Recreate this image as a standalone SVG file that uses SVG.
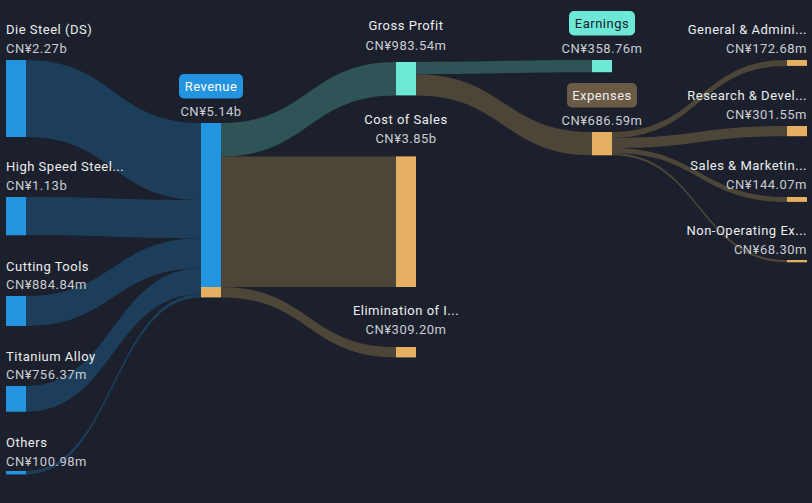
<svg xmlns="http://www.w3.org/2000/svg" width="812" height="503" viewBox="0 0 812 503">
<style>
text{font-family:Roboto,"Liberation Sans",sans-serif;font-size:13px;letter-spacing:0.5px}
.l{fill:#eceef0}
.v{fill:#c9cdd2}
.s{text-anchor:start}
.m{text-anchor:middle}
.e{text-anchor:end}
.blue{fill:#2394e0}
.org{fill:#e6b062}
.teal{fill:#6de8d6}
.fb{fill:#1d3e5a}
.ft{fill:#2e5457}
.fr{fill:#4d4638}
</style>
<rect width="812" height="503" fill="#1b202c"/>
<g id="connectors">
<path class="fb" d="M26 60 C113.5 60 113.5 123 201 123 L201 200 C113.5 200 113.5 137 26 137 Z"/>
<path class="fb" d="M26 197 C113.5 197 113.5 200 201 200 L201 238.3 C113.5 238.3 113.5 235.3 26 235.3 Z"/>
<path class="fb" d="M26 296 C113.5 296 113.5 238.3 201 238.3 L201 268.3 C113.5 268.3 113.5 326 26 326 Z"/>
<path class="fb" d="M26 386 C113.5 386 113.5 268.3 201 268.3 L201 294 C113.5 294 113.5 411.7 26 411.7 Z"/>
<path class="fb" d="M26 471 C113.5 471 113.5 294 201 294 L201 297.4 C113.5 297.4 113.5 474.4 26 474.4 Z"/>
<path class="ft" d="M221 123 C308.5 123 308.5 62 396 62 L396 95.4 C308.5 95.4 308.5 156.4 221 156.4 Z"/>
<path class="fr" d="M221 156.4 L396 156.4 L396 287 L221 287 Z"/>
<path class="fr" d="M221 287 C308.5 287 308.5 347 396 347 L396 357.4 C308.5 357.4 308.5 297.4 221 297.4 Z"/>
<path class="ft" d="M416 62 C504 62 504 60 592 60 L592 72.2 C504 72.2 504 74.2 416 74.2 Z"/>
<path class="fr" d="M416 74.2 C504 74.2 504 132 592 132 L592 155.3 C504 155.3 504 95.4 416 95.4 Z"/>
<path class="fr" d="M612 132 C699.5 132 699.5 60 787 60 L787 65.9 C699.5 65.9 699.5 137.9 612 137.9 Z"/>
<path class="fr" d="M612 137.9 C699.5 137.9 699.5 126 787 126 L787 136.2 C699.5 136.2 699.5 148.1 612 148.1 Z"/>
<path class="fr" d="M612 148.1 C699.5 148.1 699.5 197 787 197 L787 201.9 C699.5 201.9 699.5 153 612 153 Z"/>
<path class="fr" d="M612 153 C699.5 153 699.5 260 787 260 L787 262.3 C699.5 262.3 699.5 155.3 612 155.3 Z"/>
</g>
<g id="die-steel">
<rect class="blue" x="6" y="60" width="20" height="77"/>
<text class="l s" x="6" y="34">Die Steel (DS)</text>
<text class="v s" x="6" y="53">CN¥2.27b</text>
</g>
<g id="high-speed-steel">
<rect class="blue" x="6" y="197" width="20" height="38.3"/>
<text class="l s" x="6" y="171">High Speed Steel...</text>
<text class="v s" x="6" y="190">CN¥1.13b</text>
</g>
<g id="cutting-tools">
<rect class="blue" x="6" y="296" width="20" height="30"/>
<text class="l s" x="6" y="271">Cutting Tools</text>
<text class="v s" x="6" y="289">CN¥884.84m</text>
</g>
<g id="titanium-alloy">
<rect class="blue" x="6" y="386" width="20" height="25.7"/>
<text class="l s" x="6" y="361">Titanium Alloy</text>
<text class="v s" x="6" y="379">CN¥756.37m</text>
</g>
<g id="others">
<rect class="blue" x="6" y="471" width="20" height="3.4"/>
<text class="l s" x="6" y="447">Others</text>
<text class="v s" x="6" y="466">CN¥100.98m</text>
</g>
<g id="revenue">
<rect class="blue" x="201" y="123" width="20" height="164"/>
<rect class="org" x="201" y="287" width="20" height="10.4"/>
<rect x="179" y="74" width="64" height="24.5" rx="5" fill="#2394e0"/>
<text class="m" x="211" y="91" fill="#ffffff">Revenue</text>
<text class="v m" x="211" y="116">CN¥5.14b</text>
</g>
<g id="gross-profit">
<rect class="teal" x="396" y="62" width="20" height="33.4"/>
<text class="l m" x="406" y="30">Gross Profit</text>
<text class="v m" x="406" y="50">CN¥983.54m</text>
</g>
<g id="cost-of-sales">
<rect class="org" x="396" y="156.4" width="20" height="130.6"/>
<text class="l m" x="406" y="124">Cost of Sales</text>
<text class="v m" x="406" y="143">CN¥3.85b</text>
</g>
<g id="elimination">
<rect class="org" x="396" y="347" width="20" height="10.4"/>
<text class="l m" x="406" y="315">Elimination of I...</text>
<text class="v m" x="406" y="334">CN¥309.20m</text>
</g>
<g id="earnings">
<rect class="teal" x="592" y="60" width="20" height="12.2"/>
<rect x="569" y="11" width="66" height="24.5" rx="5" fill="#6de8d6"/>
<text class="m" x="602" y="28" fill="#1b202c">Earnings</text>
<text class="v m" x="602" y="53">CN¥358.76m</text>
</g>
<g id="expenses">
<rect class="org" x="592" y="132" width="20" height="23.3"/>
<rect x="567" y="83" width="70" height="24.5" rx="5" fill="#6b5a45"/>
<text class="m" x="602" y="100" fill="#eceef0">Expenses</text>
<text class="v m" x="602" y="125">CN¥686.59m</text>
</g>
<g id="general-admin">
<rect class="org" x="787" y="60" width="20" height="5.9"/>
<text class="l e" x="807" y="34">General &amp; Admini...</text>
<text class="v e" x="807" y="53">CN¥172.68m</text>
</g>
<g id="research-dev">
<rect class="org" x="787" y="126" width="20" height="10.2"/>
<text class="l e" x="807" y="100">Research &amp; Devel...</text>
<text class="v e" x="807" y="119">CN¥301.55m</text>
</g>
<g id="sales-marketing">
<rect class="org" x="787" y="197" width="20" height="4.9"/>
<text class="l e" x="807" y="170">Sales &amp; Marketin...</text>
<text class="v e" x="807" y="189">CN¥144.07m</text>
</g>
<g id="non-operating">
<rect class="org" x="787" y="260" width="20" height="2.3"/>
<text class="l e" x="807" y="235">Non-Operating Ex...</text>
<text class="v e" x="807" y="254">CN¥68.30m</text>
</g>
</svg>
